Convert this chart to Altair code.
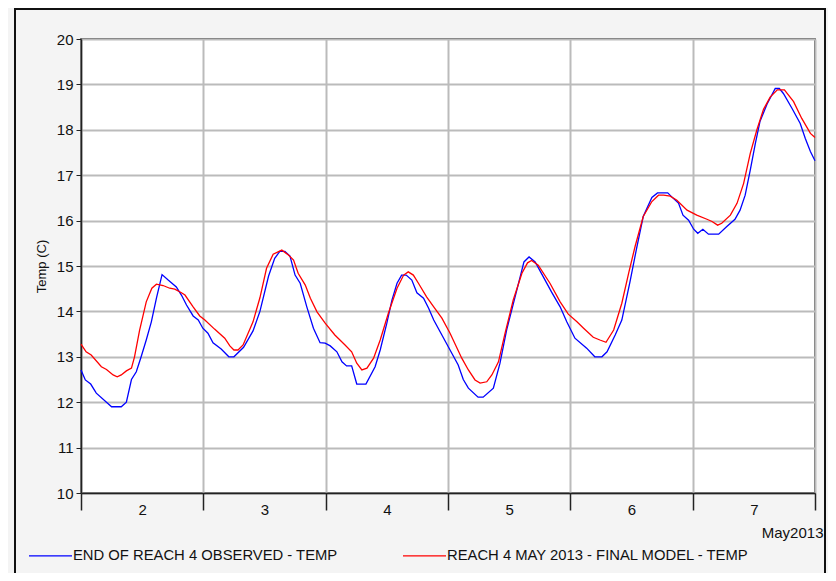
import altair as alt
import pandas as pd

# ---- data (hours since 2013-05-02 00:00, temperature in C)
obs_hours = [0, 0.85, 1.9, 3.0, 6.0, 7.9, 8.9, 9.9, 10.85, 11.8, 12.8, 13.8, 14.8, 15.9,
             17.1, 18.7, 19.7, 20.7, 22, 23, 23.9, 24.9, 25.9, 27.5, 29, 30, 31.9, 33.75,
             35.1, 36.8, 38, 39, 40, 41, 42, 43, 44.3, 45.6, 46.9, 47.9, 48.9, 50.2, 51.2,
             52.1, 53.1, 54.1, 55.9, 57.7, 58.7, 60, 61, 62, 62.9, 63.8, 64.9, 65.9, 67.2,
             68.2, 69.2, 70.8, 72.4, 74, 75, 76, 77.9, 78.9, 80.9, 82.2, 83.5, 85.5, 86.9,
             87.9, 89.1, 90.7, 92.3, 94, 95.3, 96.9, 99.2, 100.8, 102.2, 103.2, 104.8, 106.1,
             107.7, 109, 110.3, 112, 113.1, 115.1, 116.2, 117.2, 118.1, 119.2, 120.2, 121,
             122, 123.1, 125.1, 126.7, 128.3, 129.3, 130.3, 131.3, 132.3, 133.2, 134.6,
             136.2, 137, 137.8, 139.5, 141.1, 142.1, 143.1, 144]
obs_temp = [12.71, 12.49, 12.40, 12.20, 11.90, 11.90, 12.00, 12.50, 12.67, 13.00, 13.37, 13.77,
            14.29, 14.81, 14.69, 14.54, 14.36, 14.14, 13.90, 13.81, 13.63, 13.52, 13.31, 13.17,
            13.00, 13.00, 13.21, 13.57, 14.00, 14.78, 15.17, 15.32, 15.32, 15.22, 14.80, 14.62,
            14.10, 13.63, 13.31, 13.30, 13.24, 13.11, 12.89, 12.80, 12.80, 12.40, 12.40, 12.78,
            13.15, 13.74, 14.25, 14.62, 14.80, 14.80, 14.69, 14.41, 14.29, 14.07, 13.81, 13.48,
            13.15, 12.82, 12.50, 12.31, 12.11, 12.11, 12.31, 12.86, 13.59, 14.47, 15.09, 15.20,
            15.09, 14.76, 14.43, 14.10, 13.77, 13.41, 13.19, 13.00, 13.00, 13.11, 13.48, 13.81,
            14.65, 15.39, 16.09, 16.51, 16.61, 16.61, 16.49, 16.39, 16.12, 16.01, 15.81, 15.72,
            15.81, 15.70, 15.70, 15.87, 16.03, 16.23, 16.56, 17.11, 17.70, 18.18, 18.57, 18.91,
            18.91, 18.80, 18.47, 18.14, 17.81, 17.52, 17.32]

mod_hours = [0, 1, 2, 4, 5, 6.3, 7.1, 7.9, 8.9, 9.9, 10.5, 11.5, 12.8, 13.9, 14.8, 16.1, 17.4,
             18.4, 19.7, 20.4, 22, 23.3, 24.3, 26.2, 28.2, 29.2, 30, 30.8, 31.8, 33.75, 35.1,
             36.4, 37.7, 39.4, 40.7, 41.7, 42.6, 44, 45, 46.3, 47.9, 49.8, 51.8, 53.1, 54.1,
             55.1, 56.1, 57.4, 58.7, 60.3, 62, 63.3, 64.2, 65.2, 66.2, 67.8, 69.2, 70.8, 72.4,
             74.7, 76, 77.3, 78.3, 79.6, 80.6, 81.9, 83.2, 84.8, 86.5, 87.6, 88.4, 89.7, 92,
             94, 95.6, 97.3, 98.6, 100.5, 101.8, 103, 104.5, 106.1, 107.5, 108.7, 110.3, 112,
             113.3, 114.3, 115.6, 116.9, 118.9, 120.8, 122.8, 123.8, 124.9, 125.7, 127.4,
             128.7, 130, 131.3, 132.6, 133.9, 135.2, 136.6, 138, 139.8, 141.4, 143.1, 144]
mod_temp = [13.28, 13.11, 13.04, 12.78, 12.72, 12.60, 12.56, 12.60, 12.69, 12.75, 13.00, 13.59,
            14.21, 14.51, 14.60, 14.57, 14.51, 14.49, 14.41, 14.36, 14.10, 13.90, 13.81, 13.61,
            13.41, 13.24, 13.15, 13.15, 13.26, 13.77, 14.30, 14.95, 15.26, 15.35, 15.24, 15.13,
            14.84, 14.58, 14.29, 13.99, 13.74, 13.48, 13.26, 13.11, 12.86, 12.71, 12.75, 12.97,
            13.37, 13.96, 14.51, 14.80, 14.87, 14.80, 14.62, 14.32, 14.10, 13.85, 13.52, 12.97,
            12.71, 12.49, 12.42, 12.45, 12.60, 12.89, 13.52, 14.25, 14.84, 15.07, 15.12, 15.02,
            14.62, 14.21, 13.94, 13.77, 13.63, 13.43, 13.37, 13.32, 13.59, 14.18, 14.87, 15.43,
            16.09, 16.42, 16.56, 16.56, 16.54, 16.45, 16.23, 16.12, 16.03, 15.98, 15.90, 15.94,
            16.12, 16.38, 16.82, 17.48, 18.00, 18.45, 18.72, 18.88, 18.88, 18.62, 18.25, 17.92,
            17.83]

series_names = ["END OF REACH 4 OBSERVED - TEMP", "REACH 4 MAY 2013 - FINAL MODEL - TEMP"]
series_colors = ["#0000ff", "#ff0000"]
day_ticks = [2, 3, 4, 5, 6, 7, 8]
y_ticks = list(range(10, 21))

start = pd.Timestamp("2013-05-02")
df = pd.concat([
    pd.DataFrame({"time": start + pd.to_timedelta(obs_hours, unit="h"),
                  "temp": obs_temp, "series": series_names[0]}),
    pd.DataFrame({"time": start + pd.to_timedelta(mod_hours, unit="h"),
                  "temp": mod_temp, "series": series_names[1]}),
], ignore_index=True)

W, H = 734, 454
day_px = W / 6.0

x_enc = alt.X(
    "time:T",
    scale=alt.Scale(domain=[alt.DateTime(year=2013, month=5, date=day_ticks[0]),
                            alt.DateTime(year=2013, month=5, date=day_ticks[-1])]),
    axis=alt.Axis(
        values=[alt.DateTime(year=2013, month=5, date=d) for d in day_ticks],
        format="%-d",
        labelExpr="datum.label == '8' ? '' : datum.label",
        labelOffset=day_px / 2,
        labelPadding=-8,
        labelFlush=False,
        labelOverlap=False,
        labelBound=False,
        tickSize=17,
        tickColor="#222222",
        tickWidth=1.5,
        title="May2013",
        titleX=W + 8,
        titleY=39,
        titleAlign="right",
        titleBaseline="middle",
        titleFontWeight="normal",
        titleFontSize=15,
    ),
)
y_enc = alt.Y(
    "temp:Q",
    scale=alt.Scale(domain=[10, 20], nice=False),
    axis=alt.Axis(values=y_ticks, tickSize=5, labelPadding=3, title="Temp (C)",
                  titleFontSize=13, titleFontWeight="normal", titlePadding=8,
                  tickColor="#222222"),
)

lines = alt.Chart(df).mark_line(strokeWidth=1.3).encode(
    x=x_enc,
    y=y_enc,
    color=alt.Color(
        "series:N",
        scale=alt.Scale(domain=series_names, range=series_colors),
        legend=alt.Legend(
            title=None, orient="none", legendX=-53, legendY=494, direction="horizontal",
            symbolType="stroke", symbolSize=1849, symbolStrokeWidth=1.3,
            labelOffset=0, labelFontSize=14.8, labelLimit=0, columnPadding=62,
            labelFont="Liberation Sans", labelColor="#111111",
        ),
    ),
)

frame = alt.Chart().mark_rect(fillOpacity=0, stroke="#111111", strokeWidth=2).encode(
    x=alt.value(-66), x2=alt.value(744), y=alt.value(-30), y2=alt.value(570)
)

chart = alt.layer(frame, lines).properties(
    width=W, height=H, autosize="none",
    padding={"left": 73, "top": 31, "right": 13, "bottom": 80},
    background="#f4f4f4",
).configure_view(
    stroke="#222222", strokeWidth=1.5, fill="white"
).configure_axis(
    labelFont="Liberation Sans", labelFontSize=15, labelColor="#111111",
    titleFont="Liberation Sans", titleColor="#111111",
    domainColor="#222222", domainWidth=1.5,
    gridColor="#bbbbbb", gridWidth=2,
)

chart.save("out.html", embed_options={"renderer": "svg", "actions": False})
